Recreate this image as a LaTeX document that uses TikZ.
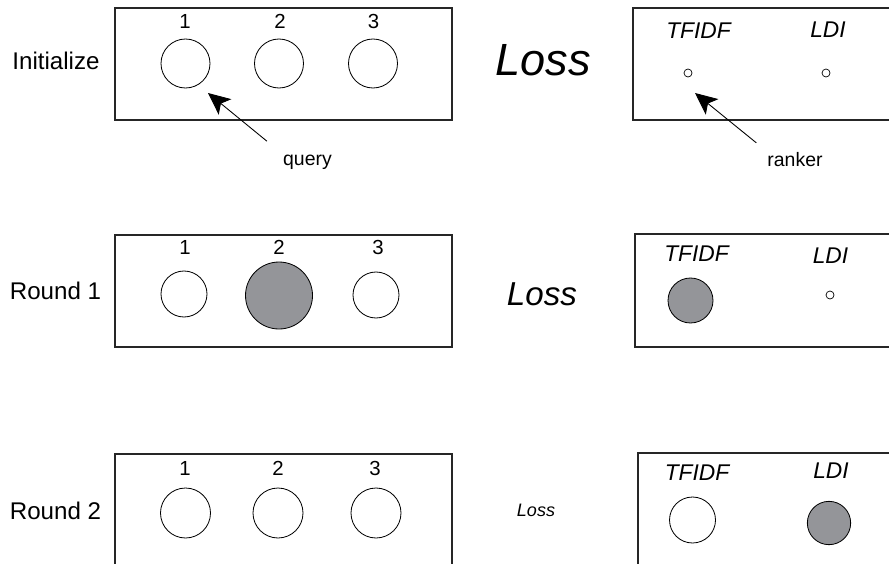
\documentclass[tikz,border=0pt]{standalone}
\usepackage{fontspec}
\setmainfont{Liberation Sans}
\usetikzlibrary{arrows.meta}
\definecolor{hit}{RGB}{148,149,153}
\begin{document}
\begin{tikzpicture}[x=0.3mm, y=-0.3mm,
        box/.style={draw=black!85, line width=0.9pt},
        n/.style={circle, draw, line width=0.7pt, inner sep=0pt, minimum size=#1},
        dot/.style={circle, draw, line width=0.6pt, inner sep=0pt, minimum size=2.4mm},
        lab/.style={font=\fontsize{20.6}{23}\selectfont},
        num/.style={font=\fontsize{17.4}{19}\selectfont},
        met/.style={font=\fontsize{19.4}{21}\selectfont\itshape},
        note/.style={font=\fontsize{16.6}{18}\selectfont, inner sep=0pt, anchor=base},
        pointer/.style={-{Stealth[length=6.6mm, width=6mm, inset=1.6mm]}, line width=0.75pt}]
        \clip (0,0) rectangle (889,563);

        % rows of boxes
        \draw[box] (115,8) rectangle (452,120);
        \draw[box] (633,8) rectangle (900,120);
        \draw[box] (115,235) rectangle (452,347);
        \draw[box] (635,234) rectangle (900,347);
        \draw[box] (115,454) rectangle (452,580);
        \draw[box] (638,453) rectangle (900,580);

        % Initialize
        \node[lab] (init) at (56,61) {Initialize};
        \node[num] (k1) at (185,21.5) {1};
        \node[num] (k2) at (280,21.5) {2};
        \node[num] (k3) at (373.5,21.5) {3};
        \node[n=14.7mm] (a1) at (185.5,63.5) {};
        \node[n=14.7mm] (a2) at (279,63.5) {};
        \node[n=14.7mm] (a3) at (373,63.5) {};
        \node[font=\fontsize{38.5}{42}\selectfont\itshape] (loss0) at (543,60) {Loss};
        \node[met] (tf0) at (698.5,31) {TFIDF};
        \node[met] (ldi0) at (828,29.5) {LDI};
        \node[dot] (d1) at (688,73) {};
        \node[dot] (d2) at (826,73) {};
        \node[note] (query) at (307.5,165) {query};
        \node[note] (ranker) at (795,166) {ranker};
        \coordinate (qtip) at (208,93);
        \coordinate (rtip) at (695,93);
        \draw[pointer, shorten <=6.2mm] (query.north west) -- (qtip);
        \draw[pointer, shorten <=4.2mm] (ranker.north west) -- (rtip);

        % Round 1
        \node[lab] (r1) at (55.5,291) {Round 1};
        \node[num] (l1) at (185,247.5) {1};
        \node[num] (l2) at (279,247.5) {2};
        \node[num] (l3) at (378,247.5) {3};
        \node[n=13.8mm] (b1) at (184,294) {};
        \node[n=20.1mm, fill=hit] (b2) at (279,295.5) {};
        \node[n=13.8mm] (b3) at (376,295) {};
        \node[font=\fontsize{28.3}{31}\selectfont\itshape] (loss1) at (542,294) {Loss};
        \node[met] (tf1) at (696.5,253.5) {TFIDF};
        \node[met] (ldi1) at (830.5,256) {LDI};
        \node[n=13.5mm, fill=hit] (e1) at (690.5,300.5) {};
        \node[dot] (e2) at (830,295) {};

        % Round 2
        \node[lab] (r2) at (55.5,511) {Round 2};
        \node[num] (m1) at (185,468) {1};
        \node[num] (m2) at (278,468) {2};
        \node[num] (m3) at (375,468) {3};
        \node[n=15mm] (c1) at (185.5,513) {};
        \node[n=15mm] (c2) at (278,513) {};
        \node[n=15mm] (c3) at (376,513) {};
        \node[font=\fontsize{15.4}{17}\selectfont\itshape] (loss2) at (536,510) {Loss};
        \node[met] (tf2) at (697,473) {TFIDF};
        \node[met] (ldi2) at (831,470.5) {LDI};
        \node[n=13.8mm] (f1) at (692.5,520) {};
        \node[n=13mm, fill=hit] (f2) at (829,523) {};
\end{tikzpicture}
\end{document}
